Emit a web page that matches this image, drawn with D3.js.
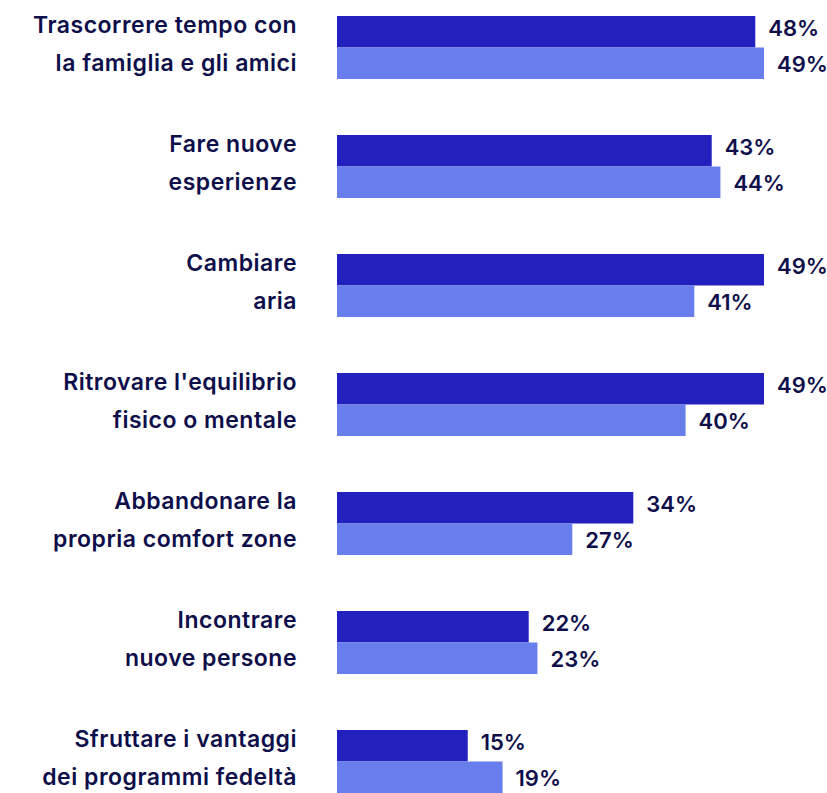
<!DOCTYPE html>
<html>
<head>
<meta charset="utf-8">
<script src="https://cdn.jsdelivr.net/npm/d3@7"></script>
<style>
  html, body { margin: 0; padding: 0; background: #fff; }
  svg { display: block; }
</style>
</head>
<body>
<div id="chart"></div>
<script>
// categories (two lines each) and the two series
const categories = [
    ["Trascorrere tempo con", "la famiglia e gli amici"],
    ["Fare nuove", "esperienze"],
    ["Cambiare", "aria"],
    ["Ritrovare l'equilibrio", "fisico o mentale"],
    ["Abbandonare la", "propria comfort zone"],
    ["Incontrare", "nuove persone"],
    ["Sfruttare i vantaggi", "dei programmi fedeltà"]
];
const seriesA = [48, 43, 49, 49, 34, 22, 15];
const seriesB = [49, 44, 41, 40, 27, 23, 19];
const seriesNames = ["a", "b"];

const width = 827, height = 793;
const colors = {a: "#2321be", b: "#677eec"};
const textColor = "#0e0e4a";

const data = categories.map((c, i) => ({
    key: c.join(" "),
    lines: c,
    a: seriesA[i],
    b: seriesB[i]
}));

const svg = d3.select("#chart")
    .append("svg")
    .attr("width", width)
    .attr("height", height);

// y: one band per category, sub band per series
const y = d3.scaleBand()
    .domain(data.map(d => d.key))
    .range([16, 793])
    .paddingInner(56 / 119)
    .paddingOuter(0);

const ySub = d3.scaleBand()
    .domain(seriesNames)
    .range([0, y.bandwidth()]);

const x = d3.scaleLinear()
    .domain([0, 49])
    .range([337, 764]);

const groups = svg.selectAll("g.group")
    .data(data)
    .enter()
    .append("g")
    .attr("class", "group")
    .attr("transform", d => `translate(0,${y(d.key)})`);

seriesNames.forEach(s => {
    groups.append("rect")
        .attr("x", x(0))
        .attr("y", ySub(s))
        .attr("width", d => x(d[s]) - x(0))
        .attr("height", ySub.bandwidth())
        .attr("fill", colors[s]);

    groups.append("text")
        .attr("x", d => x(d[s]) + 13)
        .attr("y", s === "a" ? 20 : 56)
        .attr("font-family", "Inter, sans-serif")
        .attr("font-weight", 600)
        .attr("font-size", "22px")
        .attr("fill", textColor)
        .text(d => d[s] + "%");
});

// category labels, right aligned
groups.each(function (d) {
    const g = d3.select(this);
    d.lines.forEach((line, k) => {
        g.append("text")
            .attr("x", 297)
            .attr("y", 17 + k * 38)
            .attr("text-anchor", "end")
            .attr("font-family", "Inter, sans-serif")
            .attr("font-weight", 600)
            .attr("font-size", "23px")
            .attr("letter-spacing", "0.5px")
            .attr("fill", textColor)
            .text(line);
    });
});
</script>
</body>
</html>
